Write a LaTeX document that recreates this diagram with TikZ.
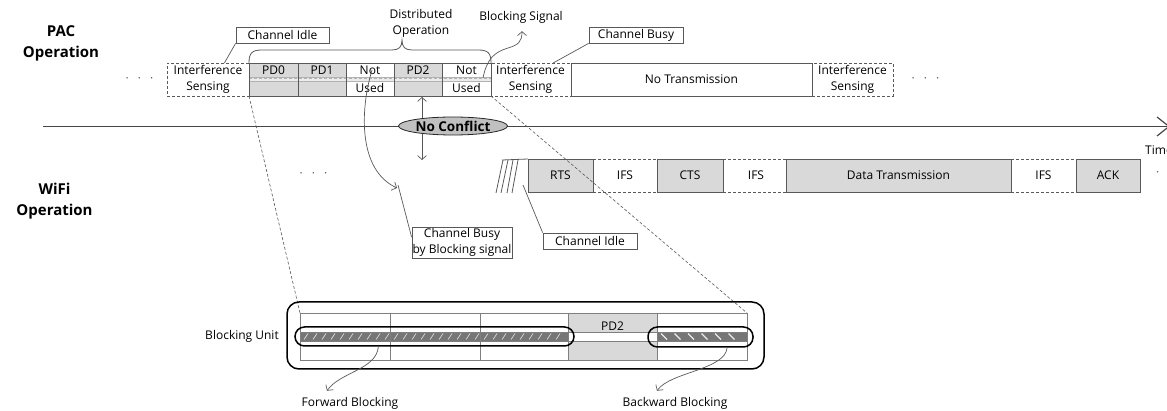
\documentclass[tikz,border=0pt]{standalone}
\usepackage{fontspec}
\setmainfont{Open Sans}
\usetikzlibrary{arrows.meta,shapes.geometric,calc}

\definecolor{cellgray}{HTML}{D9D9D9}
\definecolor{edgegray}{HTML}{595959}
\definecolor{axisgray}{HTML}{454545}
\definecolor{tablegray}{HTML}{7F7F7F}
\definecolor{hatchgray}{HTML}{767676}
\definecolor{ovalgray}{HTML}{C0C0C0}

\tikzset{
  txt/.style={font=\fontsize{12}{16.5}\selectfont, inner sep=0pt, align=center},
  title/.style={font=\fontsize{15}{21}\selectfont\bfseries, inner sep=0pt, align=center},
  cellnode/.style={txt, anchor=north west, outer sep=0pt},
  dashedbox/.style={draw=edgegray, dash pattern=on 3pt off 2pt, line width=0.8pt},
  solidbox/.style={draw=edgegray, line width=0.8pt},
  graybox/.style={cellnode, solidbox, fill=cellgray, minimum height=33pt},
  ifsbox/.style={cellnode, minimum height=33pt},
  ifsedge/.style={draw=edgegray, dash pattern=on 3pt off 2pt, line width=0.8pt},
  callout/.style={txt, draw=edgegray, line width=0.8pt, fill=white, minimum height=16pt},
  leader/.style={draw=edgegray, line width=0.7pt},
  barb/.style={-{Straight Barb[length=4pt,width=9pt]}, draw=edgegray, line width=0.7pt},
  zoomline/.style={draw=edgegray, dash pattern=on 3pt off 2pt, line width=0.6pt},
  capsule/.style={draw=black, line width=1.5pt, rounded corners=9.5pt, inner sep=0pt},
  dots/.style={txt, text=edgegray},
}

\begin{document}
\begin{tikzpicture}[x=1pt,y=-1pt]
\useasboundingbox (0,0) rectangle (1167,411);

% ---------- row titles ----------
\node[title] (pac)  at (61,43.5) {PAC\\Operation};
\node[title] (wifi) at (54.5,201) {WiFi\\Operation};

% ---------- PAC operation row ----------
\node[dots] (pacdotsl) at (139.5,80) {·\hspace{9pt}·\hspace{9pt}·};
\node[dots] (pacdotsr) at (925.5,80) {·\hspace{9pt}·\hspace{9pt}·};

\node[cellnode, dashedbox, minimum width=82pt, minimum height=33pt] (is1) at (167,63) {Interference\\Sensing};
\node[cellnode, dashedbox, minimum width=81pt, minimum height=33pt] (is2) at (490,63) {Interference\\Sensing};
\node[cellnode, dashedbox, minimum width=81pt, minimum height=33pt] (is3) at (812,63) {Interference\\Sensing};
\node[cellnode, solidbox, fill=white, minimum width=241pt, minimum height=33pt] (notx) at (571,63) {No Transmission};

% distributed slots: upper halves
\node[cellnode, fill=cellgray, minimum width=49pt, minimum height=14pt] (pd0) at (249,63) {PD0};
\node[cellnode, fill=cellgray, minimum width=48pt, minimum height=14pt] (pd1) at (298,63) {PD1};
\node[cellnode, fill=white,    minimum width=48pt, minimum height=14pt] (nu1) at (346,63) {Not};
\node[cellnode, fill=cellgray, minimum width=48pt, minimum height=14pt] (pd2) at (394,63) {PD2};
\node[cellnode, fill=white,    minimum width=49pt, minimum height=14pt] (nu2) at (442,63) {Not};
% lower halves
\node[cellnode, fill=cellgray, minimum width=49pt, minimum height=15pt] (pd0b) at (249,81) {};
\node[cellnode, fill=cellgray, minimum width=48pt, minimum height=15pt] (pd1b) at (298,81) {};
\node[cellnode, fill=white,    minimum width=48pt, minimum height=15pt] (nu1b) at (346,81) {Used};
\node[cellnode, fill=cellgray, minimum width=48pt, minimum height=15pt] (pd2b) at (394,81) {};
\node[cellnode, fill=white,    minimum width=49pt, minimum height=15pt] (nu2b) at (442,81) {Used};
% blocking-signal band between the halves
\fill[gray!15] (pd0.south west) rectangle (nu2b.north east);
\draw[gray!60, line width=0.6pt] (pd0.south west) -- (nu2.south east) (pd0b.north west) -- (nu2b.north east);
\draw[gray!60, line width=1pt, dash pattern=on 3pt off 2pt] (249,79) -- (491,79);
% slot outlines
\draw[solidbox] (pd0.north west) rectangle (nu2b.south east);
\foreach \c in {pd1,nu1,pd2,nu2} \draw[solidbox] (\c.north west) -- (\c.north west |- nu2b.south);

% brace over the distributed part
\coordinate (bracetip) at (402,40);
\draw[edgegray, line width=0.8pt] (pd0.north west) .. controls (249,53) and (252,50) .. (262,50) -- (392,50)
  .. controls (399,50) and (402,47) .. (bracetip) .. controls (402,47) and (405,50) .. (412,50) -- (478,50)
  .. controls (488,50) and (491,53) .. (nu2.north east);
\node[txt] (distop) at (421,23.5) {Distributed\\Operation};

% blocking signal
\node[txt] (bsig) at (521,17) {Blocking Signal};
\coordinate (bsigstart) at (483,78);
\coordinate (bsigtip) at ($(bsig.south)+(1,8)$);
\draw[barb] (bsigstart) .. controls (487,58) and (495,52) .. (508,48) .. controls (518,45) and (522,42) .. (bsigtip);

% channel state callouts
\node[callout, minimum width=93pt] (cidle) at (282.5,35) {Channel Idle};
\draw[leader] (cidle.south west) -- ($(is1.north west)!0.7!(is1.north east)$);
\node[callout, minimum width=94pt] (cbusy) at (636,35) {Channel Busy};
\draw[leader] (cbusy.south west) -- ($(is2.north west)!0.78!(is2.north east)$);

% ---------- time axis ----------
\coordinate (t0) at (43,126.5);
\coordinate (t1) at (1172,126.5);
\draw[axisgray, line width=1.4pt] (t0) -- (t1);
\draw[axisgray, line width=1.2pt] (1157,117) -- (1169,126.5) -- (1157,136);
\node[txt, anchor=west] (timelbl) at (1145,150) {Time};

% no-conflict marker
\coordinate (nctop) at ($(pd2b.south)+(4,1)$);
\coordinate (ncbot) at (422,160);
\draw[{Straight Barb[length=4pt,width=9pt]}-{Straight Barb[length=4pt,width=9pt]}, draw=edgegray, line width=0.7pt] (nctop) -- (ncbot);
\node[ellipse, draw=black!85, line width=0.8pt, fill=ovalgray, minimum width=109pt, minimum height=18pt, inner sep=0pt,
      font=\fontsize{13.5}{15}\selectfont\bfseries] (noconf) at (453,126) {No Conflict};

% busy-by-blocking callout
\coordinate (busystart) at ($(nu1.south)+(2,-7)$);
\coordinate (busytip) at (397,188);
\draw[barb] (busystart) .. controls (360,110) and (358,170) .. (busytip);
\node[callout, minimum width=100pt, minimum height=31pt] (cbbs) at (462,242.5) {Channel Busy\\by Blocking signal};
\draw[leader] ($(cbbs.north west)!0.33!(cbbs.south west)$) -- ($(busytip)+(1,-3)$);

% ---------- WiFi operation row ----------
\node[dots] (wifidots) at (313.5,175) {·\hspace{9pt}·\hspace{9pt}·};
\node[dots, anchor=west] (wifidotsr) at (1156,174) {·\hspace{9pt}·\hspace{9pt}·};

\node[ifsbox, minimum width=64pt] (ifs1) at (593,159) {IFS};
\node[ifsbox, minimum width=66pt] (ifs2) at (723,159) {IFS};
\node[ifsbox, minimum width=65pt] (ifs3) at (1011,159) {IFS};
\foreach \c in {ifs1,ifs2,ifs3}
  \draw[ifsedge] (\c.north west) -- (\c.north east) (\c.south west) -- (\c.south east);
\node[graybox, minimum width=65pt]  (rts)  at (528,159)  {RTS};
\node[graybox, minimum width=66pt]  (cts)  at (657,159)  {CTS};
\node[graybox, minimum width=225pt] (data) at (786,159)  {Data Transmission};
\node[graybox, minimum width=64pt]  (ack)  at (1076,159) {ACK};

% idle back-off ticks before RTS
\coordinate (hatchtop) at (502,160);
\draw[edgegray, line width=0.8pt] (hatchtop) -- (rts.north west);
\foreach \a/\b in {503/496, 508/501, 513/507, 518/512}
  \draw[edgegray, line width=0.8pt] (\a,160) -- (\b,193);
\node[callout, minimum width=94pt] (cidle2) at (590,241) {Channel Idle};
\coordinate (idlefoot) at (523,185);
\draw[leader] (idlefoot) -- (cidle2.north west);

% ---------- blocking unit detail ----------
\draw[zoomline] (pd0b.south west) -- (300,313);
\draw[zoomline] (nu2b.south east) -- (747,313);

\node[draw=black, line width=1.5pt, rounded corners=12pt, minimum width=477pt, minimum height=67pt, inner sep=0pt] (buframe) at (525.5,335.5) {};
\node[txt] (bulbl) at (242,336) {Blocking Unit};

\fill[cellgray] (568,313) rectangle (657,360);
\fill[white] (568,332) rectangle (657,341);
\fill[hatchgray] (300,332) rectangle (568,341);
\fill[hatchgray] (657,332) rectangle (747,341);
\foreach \x in {304,313,...,560}
  \draw[white!70!gray, line width=0.7pt] (\x,339.5) -- (\x+4,333.5);
\foreach \x in {661,674.5,...,740}
  \draw[white!85!gray, line width=1.3pt] (\x,333.5) -- (\x+6,339.5);
\draw[tablegray, line width=0.8pt] (300,313) rectangle (747,360);
\draw[tablegray, line width=0.8pt] (300,332) -- (747,332) (300,341) -- (747,341);
\foreach \x in {390,480,568,657} \draw[tablegray, line width=0.8pt] (\x,313) -- (\x,360);
\node[txt] (bupd2) at (612.5,326) {PD2};

\node[capsule, minimum width=279pt, minimum height=19pt] (fwd) at (434.5,336.5) {};
\node[capsule, minimum width=105pt, minimum height=20pt] (bwd) at (700.5,337) {};

\node[txt] (fwdlbl) at (350,403) {Forward Blocking};
\node[txt] (bwdlbl) at (675,403) {Backward Blocking};
\draw[barb] ($(fwd.south west)!0.3!(fwd.south east)$) .. controls (376,370) and (340,372) .. ($(fwdlbl.north)+(-23,-6)$);
\draw[barb] ($(bwd.south west)!0.75!(bwd.south east)$) .. controls (725,370) and (670,372) .. ($(bwdlbl.north)+(-18,-6)$);
\end{tikzpicture}
\end{document}
